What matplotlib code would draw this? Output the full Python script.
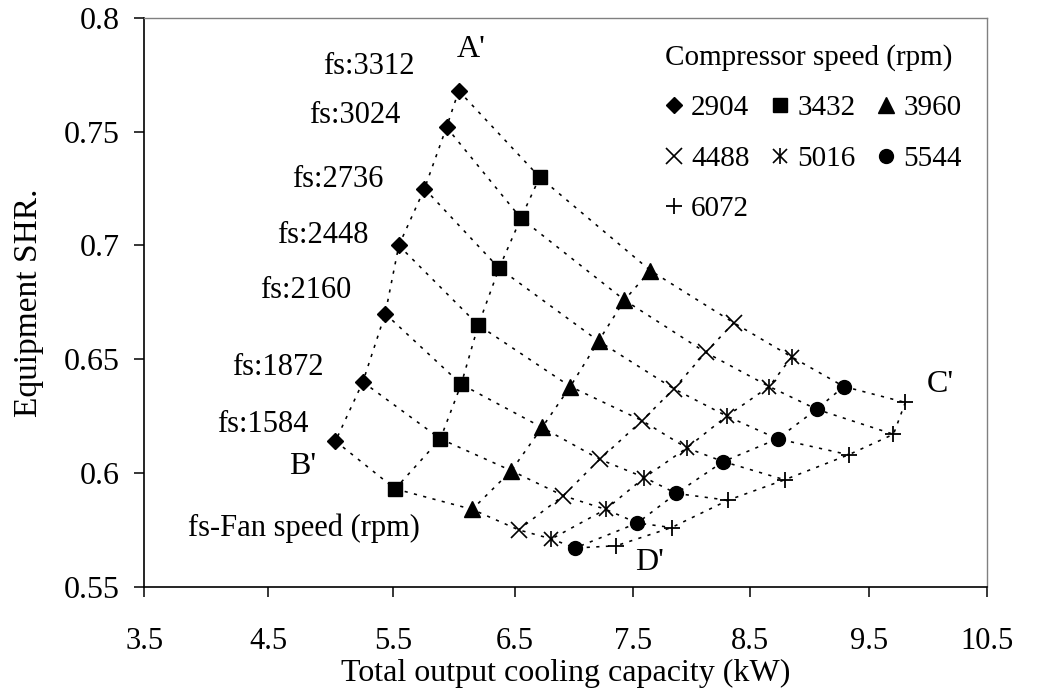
import numpy as np
import matplotlib
matplotlib.use("Agg")
import matplotlib.pyplot as plt
from matplotlib.lines import Line2D
from matplotlib.legend_handler import HandlerTuple

plt.rcParams['font.family'] = ['Liberation Serif', 'DejaVu Serif']

# ---------------- data ----------------
fan_speeds = [3312, 3024, 2736, 2448, 2160, 1872, 1584]
comp_speeds = [2904, 3432, 3960, 4488, 5016, 5544, 6072]

# total output cooling capacity (kW), one list per compressor speed, ordered by fan speed
cap_2904 = [6.04, 5.94, 5.76, 5.55, 5.44, 5.26, 5.04]
cap_3432 = [6.71, 6.55, 6.37, 6.20, 6.06, 5.89, 5.52]
cap_3960 = [7.65, 7.43, 7.21, 6.97, 6.73, 6.47, 6.15]
cap_4488 = [8.36, 8.12, 7.85, 7.58, 7.22, 6.91, 6.53]
cap_5016 = [8.85, 8.66, 8.30, 7.96, 7.60, 7.27, 6.81]
cap_5544 = [9.29, 9.06, 8.73, 8.27, 7.87, 7.54, 7.01]
cap_6072 = [9.81, 9.71, 9.33, 8.79, 8.31, 7.83, 7.36]

# equipment SHR
shr_2904 = [0.768, 0.752, 0.725, 0.700, 0.670, 0.640, 0.614]
shr_3432 = [0.730, 0.712, 0.690, 0.665, 0.639, 0.615, 0.593]
shr_3960 = [0.689, 0.676, 0.658, 0.638, 0.620, 0.601, 0.584]
shr_4488 = [0.666, 0.653, 0.637, 0.623, 0.606, 0.590, 0.575]
shr_5016 = [0.651, 0.638, 0.625, 0.611, 0.598, 0.584, 0.571]
shr_5544 = [0.638, 0.628, 0.615, 0.605, 0.591, 0.578, 0.567]
shr_6072 = [0.631, 0.617, 0.608, 0.597, 0.588, 0.576, 0.568]

capacity = [cap_2904, cap_3432, cap_3960, cap_4488, cap_5016, cap_5544, cap_6072]
shr = [shr_2904, shr_3432, shr_3960, shr_4488, shr_5016, shr_5544, shr_6072]

x_ticks = [3.5, 4.5, 5.5, 6.5, 7.5, 8.5, 9.5, 10.5]
x_tick_labels = ["3.5", "4.5", "5.5", "6.5", "7.5", "8.5", "9.5", "10.5"]
y_ticks = [0.55, 0.6, 0.65, 0.7, 0.75, 0.8]
y_tick_labels = ["0.55", "0.6", "0.65", "0.7", "0.75", "0.8"]

# ---------------- layout ----------------
# the reference x axis has slightly uneven tick spacing (relative positions)
x_tick_pos = np.array([0.0, 124.0, 248.4, 370.7, 488.4, 606.0, 724.4, 842.4])
xt = np.array(x_ticks)


def fwd(v):
    v = np.asarray(v, dtype=float)
    out = np.interp(v, xt, x_tick_pos)
    s0 = (x_tick_pos[1] - x_tick_pos[0]) / (xt[1] - xt[0])
    s1 = (x_tick_pos[-1] - x_tick_pos[-2]) / (xt[-1] - xt[-2])
    out = np.where(v < xt[0], x_tick_pos[0] + (v - xt[0]) * s0, out)
    out = np.where(v > xt[-1], x_tick_pos[-1] + (v - xt[-1]) * s1, out)
    return out


def inv(p):
    p = np.asarray(p, dtype=float)
    out = np.interp(p, x_tick_pos, xt)
    s0 = (xt[1] - xt[0]) / (x_tick_pos[1] - x_tick_pos[0])
    s1 = (xt[-1] - xt[-2]) / (x_tick_pos[-1] - x_tick_pos[-2])
    out = np.where(p < x_tick_pos[0], xt[0] + (p - x_tick_pos[0]) * s0, out)
    out = np.where(p > x_tick_pos[-1], xt[-1] + (p - x_tick_pos[-1]) * s1, out)
    return out


fig = plt.figure(figsize=(10.47, 6.98), dpi=100)
ax = fig.add_axes([144.3 / 1047, 1 - 586.7 / 698, 842.4 / 1047, 568.7 / 698])
ax.set_xscale('function', functions=(fwd, inv))

line_kw = dict(color='black', lw=1.15, ls=(0, (2, 4)), zorder=2)

# lines of constant compressor speed
for i in range(len(comp_speeds)):
    ax.plot(capacity[i], shr[i], **line_kw)
# lines of constant fan speed
for j in range(len(fan_speeds)):
    ax.plot([capacity[i][j] for i in range(len(comp_speeds))],
            [shr[i][j] for i in range(len(comp_speeds))], **line_kw)

marker_styles = [
    [dict(marker='D', ms=8.3)],
    [dict(marker='s', ms=9.5)],
    [dict(marker='^', ms=11)],
    [dict(marker='x', ms=11, mew=1.2)],
    [dict(marker='x', ms=10, mew=1.2), dict(marker='|', ms=12, mew=1.2)],
    [dict(marker='o', ms=10)],
    [dict(marker='+', ms=12, mew=1.3)],
]

handles = []
for i, cs in enumerate(comp_speeds):
    parts = []
    for st in marker_styles[i]:
        ax.plot(capacity[i], shr[i], ls='none', color='black', mfc='black',
                mec='black', zorder=3, **st)
        parts.append(Line2D([], [], ls='none', color='black', mfc='black',
                            mec='black', **st))
    handles.append(tuple(parts) if len(parts) > 1 else parts[0])

labels = [str(c) for c in comp_speeds]
order = [0, 3, 6, 1, 4, 2, 5]
leg = ax.legend([handles[k] for k in order], [labels[k] for k in order],
                handler_map={tuple: HandlerTuple(ndivide=1)},
                ncol=3, frameon=False, fontsize=21,
                title='Compressor speed (rpm)', title_fontsize=21,
                alignment='left', loc='upper left',
                bbox_to_anchor=(0.618, 0.955), borderaxespad=0, borderpad=0,
                handlelength=0.6, handletextpad=0.3, columnspacing=0.74,
                labelspacing=0.83)

# annotations
ann = [
    ("fs:3312", 5.308, 0.7754), ("fs:3024", 5.197, 0.7540),
    ("fs:2736", 5.056, 0.7258), ("fs:2448", 4.940, 0.7010),
    ("fs:2160", 4.801, 0.6770), ("fs:1872", 4.574, 0.6431),
    ("fs:1584", 4.453, 0.6181), ("fs-Fan speed (rpm)", 4.785, 0.5723),
]
for s, x, y in ann:
    ax.text(x, y, s, ha='center', va='baseline', fontsize=22)
for s, x, y in [("A'", 6.140, 0.7827), ("B'", 4.779, 0.5995),
                ("C'", 10.104, 0.6357), ("D'", 7.647, 0.5573)]:
    ax.text(x, y, s, ha='center', va='baseline', fontsize=23)

ax.set_xlim(3.5, 10.5)
ax.set_ylim(0.55, 0.8)
ax.set_xticks(x_ticks)
ax.set_xticklabels(x_tick_labels)
ax.set_yticks(y_ticks)
ax.set_yticklabels(y_tick_labels)
ax.minorticks_off()
ax.tick_params(axis='x', direction='out', length=7, width=1.1, labelsize=22, pad=22)
ax.tick_params(axis='y', direction='out', length=7, width=1.1, labelsize=23, pad=11)

for side in ['top', 'right']:
    ax.spines[side].set_color('#808080')
    ax.spines[side].set_linewidth(1.0)
for side in ['left', 'bottom']:
    ax.spines[side].set_color('black')
    ax.spines[side].set_linewidth(1.2)

ax.set_xlabel('Total output cooling capacity (kW)', fontsize=23, labelpad=2)
ax.set_ylabel('Equipment SHR.', fontsize=24, labelpad=14)

fig.savefig('out.png', dpi=100)
